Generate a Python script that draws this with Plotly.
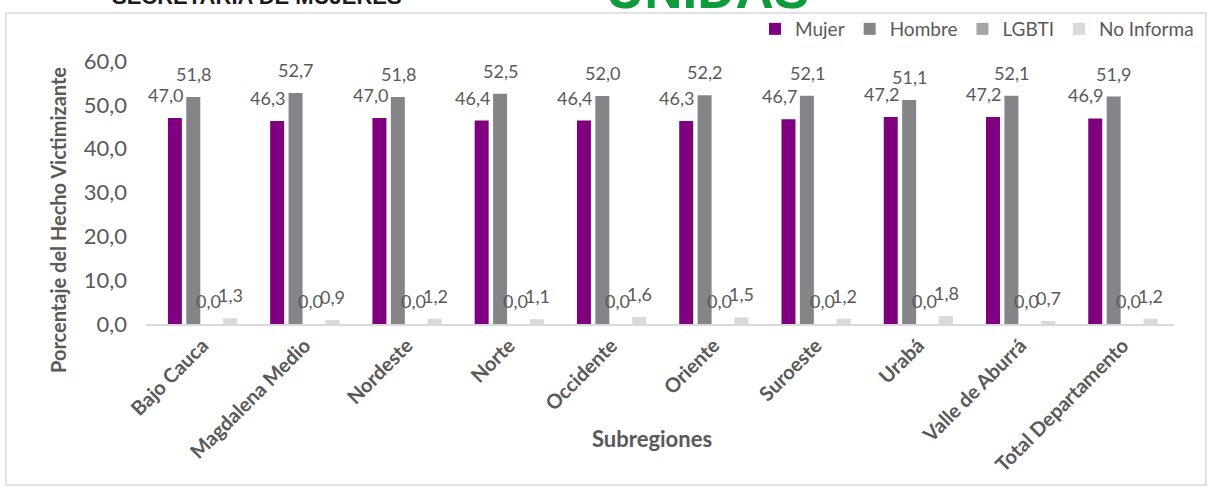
import plotly.graph_objects as go

categories = ["Bajo Cauca", "Magdalena Medio", "Nordeste", "Norte", "Occidente",
              "Oriente", "Suroeste", "Urabá", "Valle de Aburrá", "Total Departamento"]
mujer = [47.0, 46.3, 47.0, 46.4, 46.4, 46.3, 46.7, 47.2, 47.2, 46.9]
hombre = [51.8, 52.7, 51.8, 52.5, 52.0, 52.2, 52.1, 51.1, 52.1, 51.9]
lgbti = [0.0, 0.0, 0.0, 0.0, 0.0, 0.0, 0.0, 0.0, 0.0, 0.0]
no_informa = [1.3, 0.9, 1.2, 1.1, 1.6, 1.5, 1.2, 1.8, 0.7, 1.2]
series_names = ["Mujer", "Hombre", "LGBTI", "No Informa"]
y_ticks = [0, 10, 20, 30, 40, 50, 60]

colors = ["#7F007F", "#858489", "#A5A5A5", "#D9D9D9"]
label_xshift = [-37, -9, 6, 28]
FONT = "Lato"
TXT = "#595959"

W, H = 1215, 489
L, R, T, B = 146, 41, 61, 165
PW, PH = W - L - R, H - T - B


def px(x):
    return (x - L) / PW


def py(y):
    return (H - B - y) / PH


fig = go.Figure()
all_series = [mujer, hombre, lgbti, no_informa]
for name, vals, col in zip(series_names, all_series, colors):
    fig.add_trace(go.Bar(name=name, x=categories, y=vals, marker_color=col,
                         marker_line_width=0))

annotations = []
for vals, xs in zip(all_series, label_xshift):
    for c, v in zip(categories, vals):
        annotations.append(dict(
            x=c, y=v, xref="x", yref="y", text=f"{v:.1f}".replace(".", ","),
            showarrow=False, xshift=xs, yshift=23, yanchor="middle",
            font=dict(family=FONT, size=18, color=TXT)))

annotations += [
    dict(x=px(58), y=py(220), xref="paper", yref="paper", xanchor="center",
         text="<b>Porcentaje del Hecho Victimizante</b>", textangle=-90,
         showarrow=False, font=dict(family=FONT, size=20, color=TXT)),
    dict(x=px(652), y=py(454), xref="paper", yref="paper", xanchor="center",
         text="<b>Subregiones</b>", showarrow=False,
         font=dict(family=FONT, size=22, color=TXT)),
    dict(x=px(257), y=py(-4), xref="paper", yref="paper", xanchor="center",
         text="<b>SECRETARIA DE MUJERES</b>", showarrow=False, yanchor="middle",
         font=dict(family="Liberation Sans", size=22, color="#1a1a1a")),
    dict(x=px(707), y=py(-11), xref="paper", yref="paper", xanchor="center",
         text="<b>UNIDAS</b>", showarrow=False, yanchor="middle",
         font=dict(family="Liberation Sans", size=53, color="#0F9A3C")),
]

fig.update_layout(
    width=W, height=H,
    margin=dict(l=L, r=R, t=T, b=B, autoexpand=False),
    paper_bgcolor="white", plot_bgcolor="white",
    barmode="group", bargap=0.28, bargroupgap=0.24,
    separators=",.",
    font=dict(family=FONT, color=TXT),
    showlegend=True,
    legend=dict(orientation="h", x=px(1199), xanchor="right", y=py(29), yanchor="middle",
                font=dict(family=FONT, size=19, color=TXT), traceorder="normal",
                itemwidth=30, bgcolor="rgba(0,0,0,0)"),
    annotations=annotations,
    shapes=[dict(type="rect", xref="paper", yref="paper",
                 x0=px(6), x1=px(1206), y0=py(485), y1=py(13),
                 line=dict(color="#D9D9D9", width=1.5), layer="below")],
    xaxis=dict(showgrid=False, showline=True, linecolor="#D9D9D9", linewidth=2,
               tickangle=-45, ticks="", automargin=False,
               tickfont=dict(family=FONT, size=20, color=TXT, weight="bold")),
    yaxis=dict(range=[0, 60], tickvals=y_ticks, tickformat=".1f", showgrid=False,
               showline=False, zeroline=False, ticks="", ticklabelstandoff=18,
               automargin=False,
               tickfont=dict(family=FONT, size=22, color=TXT)),
)

fig.write_html("out.html", config={"displayModeBar": False},
               post_script="document.body.style.margin='0';document.body.style.overflow='hidden';")
